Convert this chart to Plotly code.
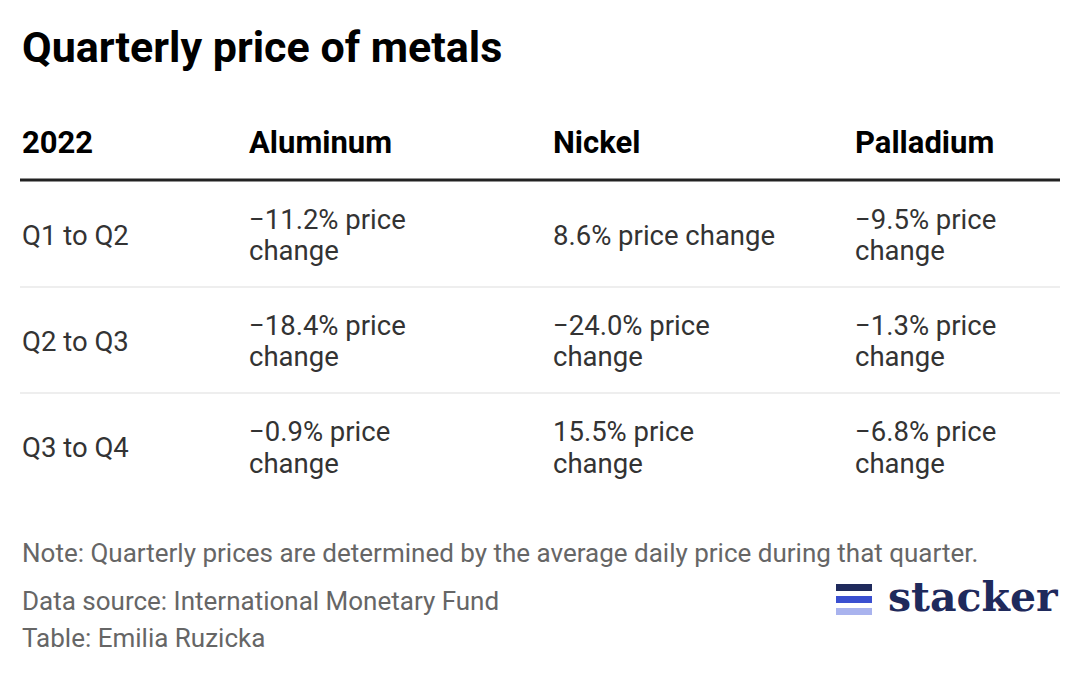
import plotly.graph_objects as go

title = "Quarterly price of metals"
header = ["2022", "Aluminum", "Nickel", "Palladium"]
periods = ["Q1 to Q2", "Q2 to Q3", "Q3 to Q4"]
aluminum = ["−11.2% price<br>change", "−18.4% price<br>change", "−0.9% price<br>change"]
nickel = ["8.6% price change", "−24.0% price<br>change", "15.5% price<br>change"]
palladium = ["−9.5% price<br>change", "−1.3% price<br>change", "−6.8% price<br>change"]
notes = ["Note: Quarterly prices are determined by the average daily price during that quarter.",
         "Data source: International Monetary Fund", "Table: Emilia Ruzicka"]

W, H = 1080, 674
DX, DY = 8, 8
X = lambda p: (p - DX) / W
Y = lambda p: 1 - (p - DY) / H
col_x = [20, 247, 551, 853]
row_y = [235, 341, 447]
F = "Roboto"

ann = []
shapes = []
ann.append(dict(text="<b>" + title + "</b>", x=X(20), y=Y(47), xanchor="left", yanchor="middle",
                font=dict(family=F, size=43, color="#000")))
for i, h in enumerate(header):
    ann.append(dict(text="<b>" + h + "</b>", x=X(col_x[i]), y=Y(143), xanchor="left", yanchor="middle",
                    font=dict(family=F, size=31, color="#000")))
shapes.append(dict(type="line", xref="paper", yref="paper", x0=X(20), x1=X(1060), y0=Y(180), y1=Y(180),
                   line=dict(color="#222", width=3)))
cols = [periods, aluminum, nickel, palladium]
for r in range(len(periods)):
    for c in range(4):
        lines = cols[c][r].split("<br>")
        n = len(lines)
        for k, ln in enumerate(lines):
            yy = row_y[r] + (k - (n - 1) / 2) * 32
            ann.append(dict(text=ln, x=X(col_x[c]), y=Y(yy), xanchor="left", yanchor="middle",
                            font=dict(family=F, size=27.5, color="#333")))
    if r < len(periods) - 1:
        yy = row_y[r] + 52
        shapes.append(dict(type="line", xref="paper", yref="paper", x0=X(20), x1=X(1060), y0=Y(yy), y1=Y(yy),
                           line=dict(color="#ddd", width=1)))
for t, py in zip(notes, [553, 601, 638]):
    ann.append(dict(text=t, x=X(20), y=Y(py), xanchor="left", yanchor="middle",
                    font=dict(family=F, size=26, color="#666")))
# logo
for (y0, col) in [(584, "#1f2a5c"), (596, "#3a4fd0"), (608, "#a9b3ee")]:
    shapes.append(dict(type="rect", xref="paper", yref="paper", x0=X(836), x1=X(872), y0=Y(y0 + 7), y1=Y(y0),
                       fillcolor=col, line=dict(width=0)))
ann.append(dict(text="<b>stacker</b>", x=X(886), y=Y(597), xanchor="left", yanchor="middle",
                font=dict(family="DejaVu Serif", size=41, color="#1f2a5c")))
for a in ann:
    a.update(xref="paper", yref="paper", showarrow=False)

fig = go.Figure()
fig.update_layout(width=W, height=H, margin=dict(l=0, r=0, t=0, b=0), paper_bgcolor="white",
                  plot_bgcolor="white", annotations=ann, shapes=shapes,
                  xaxis=dict(visible=False), yaxis=dict(visible=False))
fig.write_html("out.html")
